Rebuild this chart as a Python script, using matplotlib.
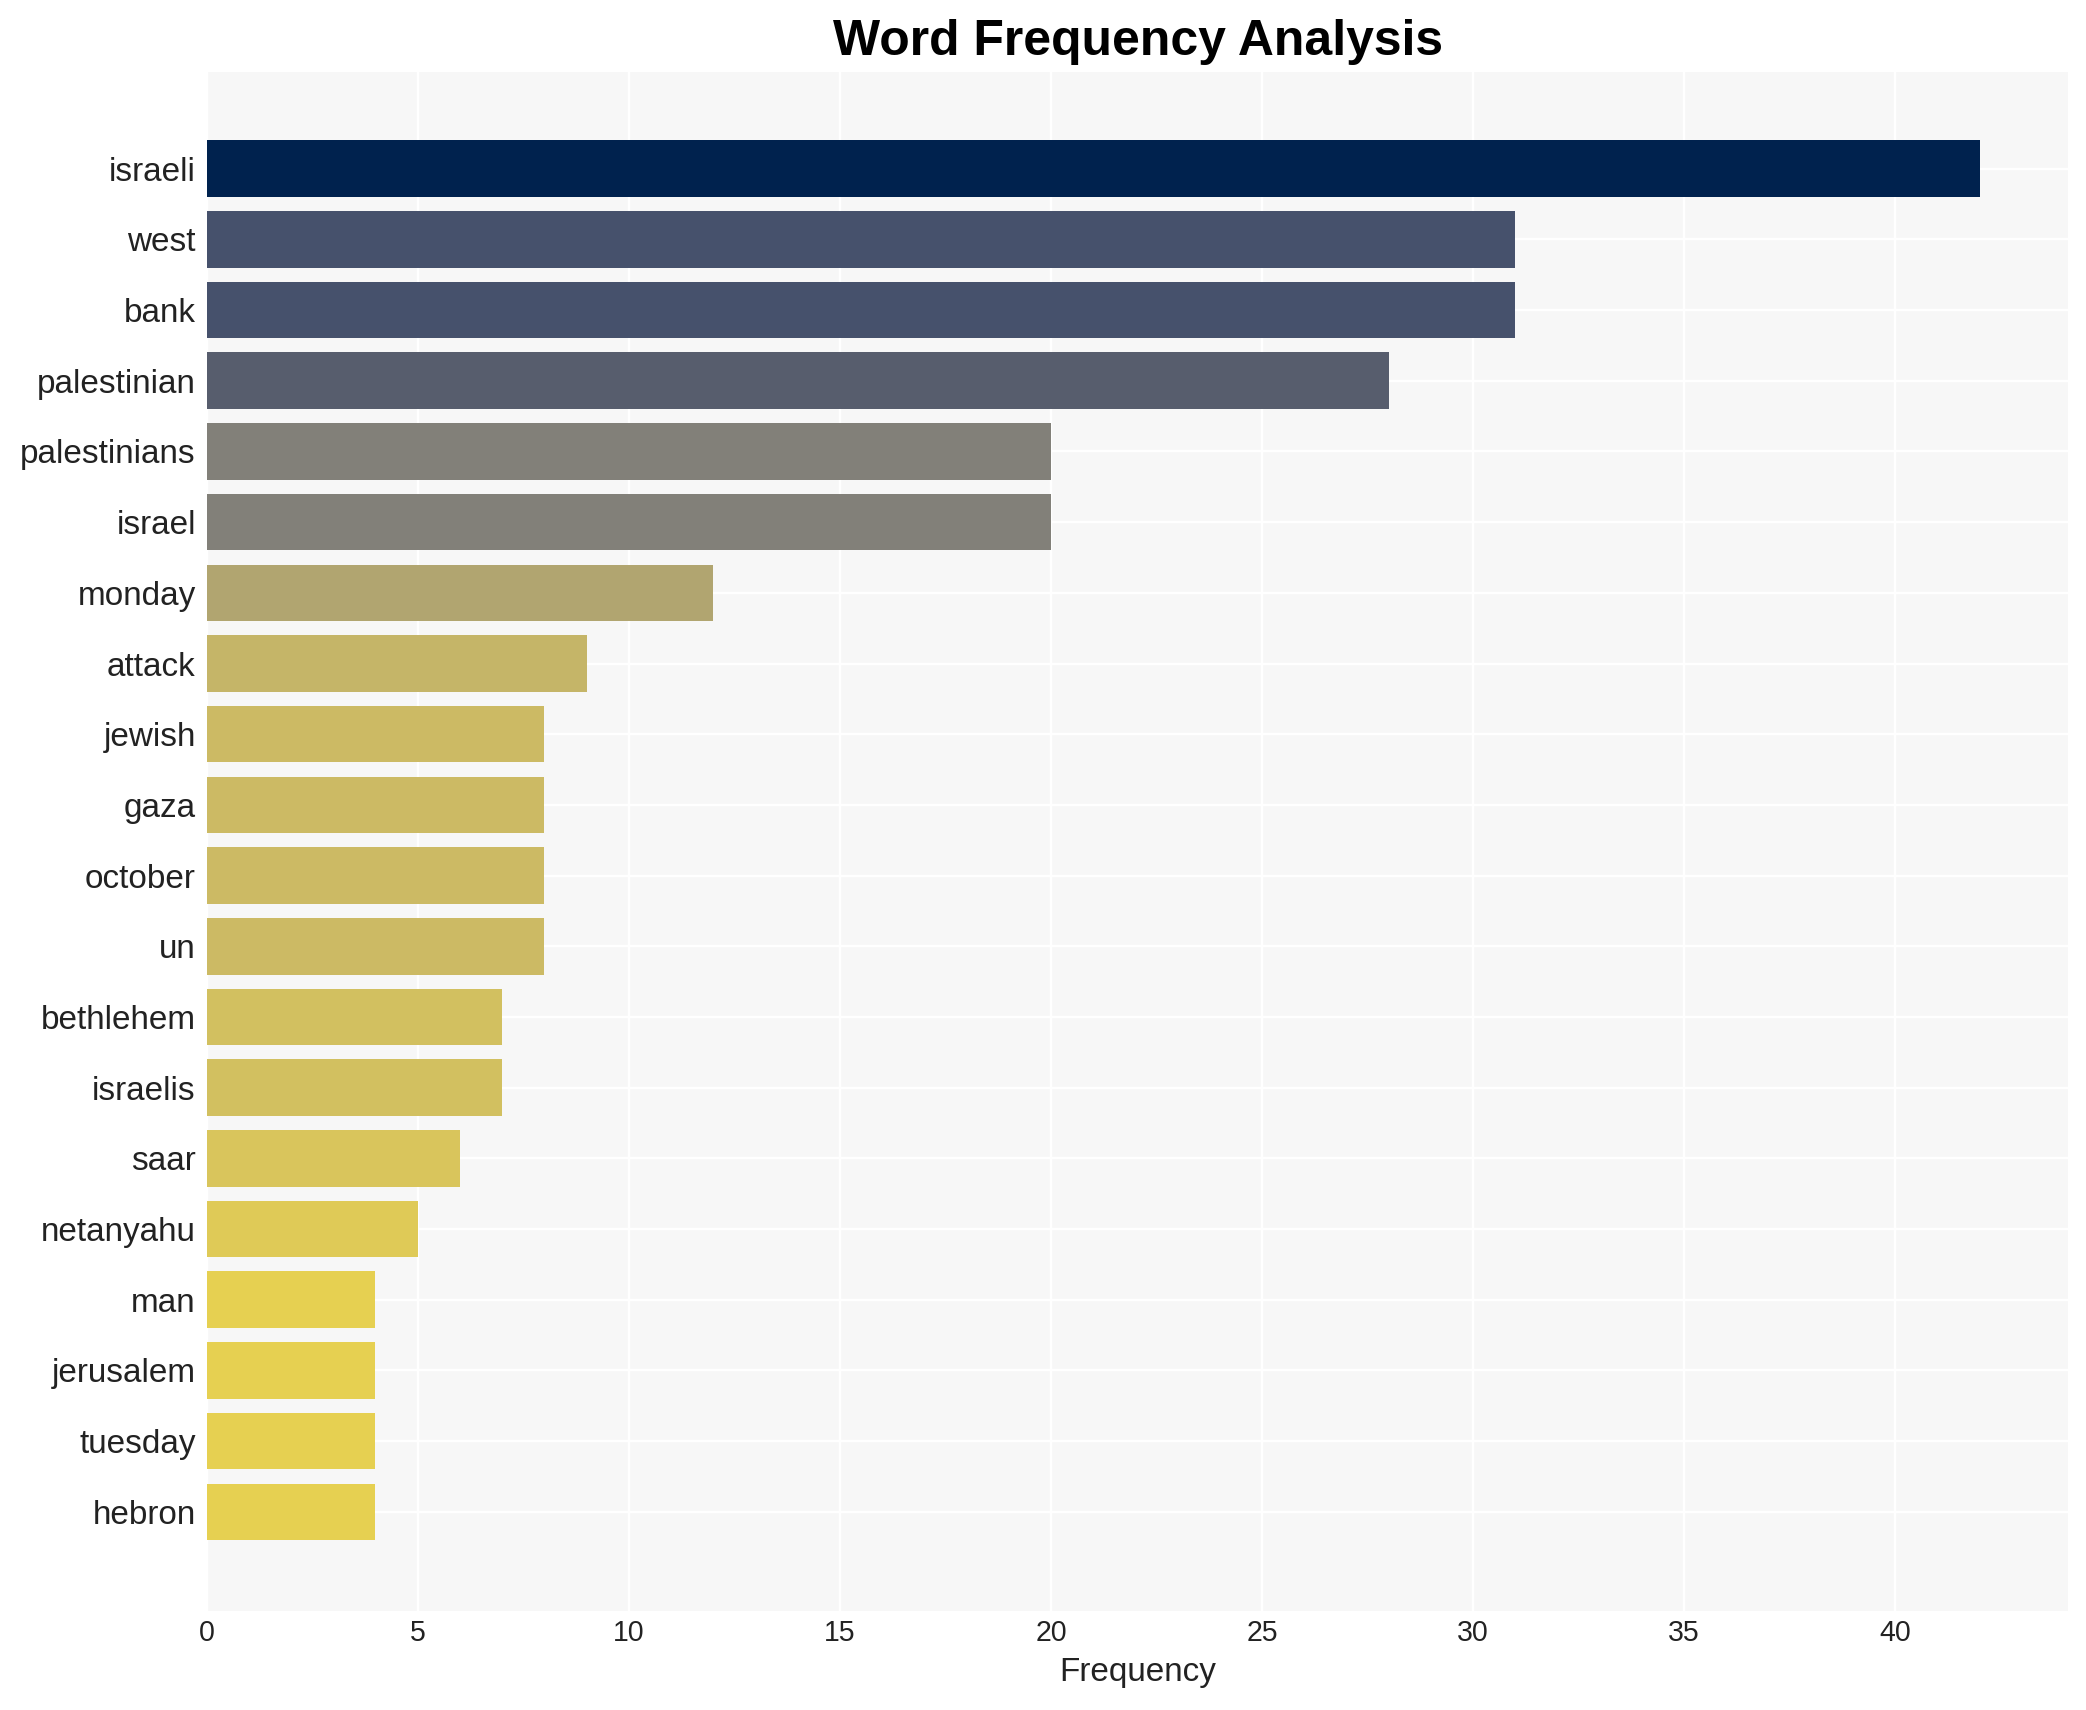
import matplotlib
matplotlib.use("Agg")
import matplotlib.pyplot as plt
from matplotlib import cm

words = ["israeli", "west", "bank", "palestinian", "palestinians", "israel",
         "monday", "attack", "jewish", "gaza", "october", "un", "bethlehem",
         "israelis", "saar", "netanyahu", "man", "jerusalem", "tuesday", "hebron"]
counts = [42, 31, 31, 28, 20, 20, 12, 9, 8, 8, 8, 8, 7, 7, 6, 5, 4, 4, 4, 4]

plt.rcParams['font.family'] = ['Liberation Sans', 'DejaVu Sans']

fig, ax = plt.subplots(figsize=(12.2, 10), dpi=171)
fig.subplots_adjust(left=0.099, right=0.9915, top=0.958, bottom=0.058)

# colour by value, biggest = darkest
top = max(counts)
colors = [cm.cividis(1 - c / top) for c in counts]

ypos = list(range(len(words)))
ax.barh(ypos, counts, height=0.8, color=colors, zorder=2)
ax.set_yticks(ypos)
ax.set_yticklabels(words, fontsize=14, color='#222222')
ax.set_ylim(len(words) - 1 + 1.4, -1.37)
ax.set_xlim(0, 44.1)

ax.set_facecolor('#f7f7f7')
ax.grid(True, color='white', linewidth=1.0, zorder=0)
ax.set_axisbelow(True)
for s in ax.spines.values():
    s.set_visible(False)
ax.tick_params(axis='both', length=0)
ax.tick_params(axis='x', labelsize=12, colors='#222222')
ax.tick_params(axis='y', pad=4.5)

ax.set_xlabel('Frequency', fontsize=14, color='#222222')
ax.set_title('Word Frequency Analysis', fontsize=21, fontweight='bold', pad=7)

fig.savefig('out.png')
